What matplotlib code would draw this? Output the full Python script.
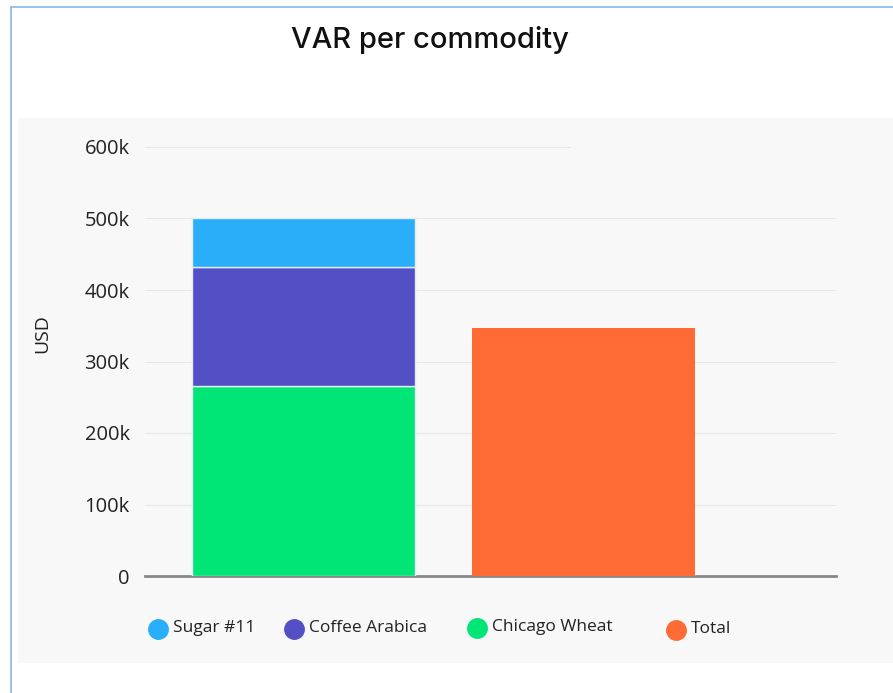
import matplotlib.pyplot as plt
from matplotlib.patches import Rectangle
from matplotlib.lines import Line2D

# values (USD)
categories = ['Commodities', 'Total']
wheat = [266000, 0]
coffee = [166000, 0]
sugar = [69000, 0]
total = [0, 347000]
series_names = ['Sugar #11', 'Coffee Arabica', 'Chicago Wheat', 'Total']
colors = ['#29aefa', '#5350c6', '#00e676', '#ff6b35']
yticks = [0, 100000, 200000, 300000, 400000, 500000, 600000]
ytick_labels = ['0', '100k', '200k', '300k', '400k', '500k', '600k']

plt.rcParams['font.family'] = ['Open Sans', 'DejaVu Sans']

W, H = 893, 693
fig = plt.figure(figsize=(W / 100, H / 100), dpi=100)
fig.patch.set_facecolor('white')

# grey panel behind the plot
fig.add_artist(Rectangle((18 / W, 1 - 663 / H), 1 - 18 / W, (663 - 118) / H,
                         transform=fig.transFigure, facecolor='#f8f8f8',
                         edgecolor='none', zorder=-2))
# blue frame on the left and top
fig.add_artist(Line2D([11 / W, 11 / W], [0, 1 - 7 / H], transform=fig.transFigure,
                      color='#8db6ee', lw=1.2))
fig.add_artist(Line2D([11 / W, 1], [1 - 7 / H, 1 - 7 / H], transform=fig.transFigure,
                      color='#8db6ee', lw=1.2))

ax = fig.add_axes([145 / W, 1 - 576 / H, (836 - 145) / W, (576 - 147) / H])
ax.set_facecolor('none')

x = [0, 1]
w = 0.796
ax.bar(x, wheat, w, color=colors[2], edgecolor='#e8ecf8', linewidth=1, zorder=3)
ax.bar(x, coffee, w, bottom=wheat, color=colors[1], edgecolor='#e8ecf8', linewidth=1, zorder=3)
bottom2 = [a + b for a, b in zip(wheat, coffee)]
ax.bar(x, sugar, w, bottom=bottom2, color=colors[0], edgecolor='#e8ecf8', linewidth=1, zorder=3)
ax.bar(x, total, w, color=colors[3], edgecolor='none', zorder=3)

ax.set_xlim(-0.566, 1.902)
ax.set_ylim(0, 600000)
ax.set_yticks(yticks)
ax.set_yticklabels(ytick_labels, fontsize=14.5, color='#222222')
ax.set_xticks([])
ax.tick_params(axis='y', length=0, pad=11)
for s in ['top', 'right', 'left']:
    ax.spines[s].set_visible(False)
ax.spines['bottom'].set_color('#888888')
ax.spines['bottom'].set_linewidth(2)

for t in yticks[1:]:
    xmax = 0.615 if t == 600000 else 1
    ax.axhline(t, xmax=xmax, color='#e6e6e6', lw=0.8, zorder=1)

ax.set_ylabel('USD', fontsize=14, color='#222222', va='center')
ax.yaxis.set_label_coords(-103 / (836 - 145), 0.566)

fig.text(430 / W, 1 - 40 / H, 'VAR per commodity', ha='center', va='center',
         fontsize=21, color='#111111', family=['Inter', 'DejaVu Sans'],
         weight='medium')

# legend
leg_x = [158, 294, 477, 676]
leg_y = [629, 629, 628, 630]
for name, c, lx, ly in zip(series_names, colors, leg_x, leg_y):
    fig.add_artist(Line2D([lx / W], [1 - ly / H], transform=fig.transFigure,
                          marker='o', markersize=14, color=c, linestyle='none'))
    fig.text((lx + 15) / W, 1 - (ly - 1) / H, name, ha='left', va='center',
             fontsize=12.5, color='#222222')

fig.savefig('out.png', dpi=100)
